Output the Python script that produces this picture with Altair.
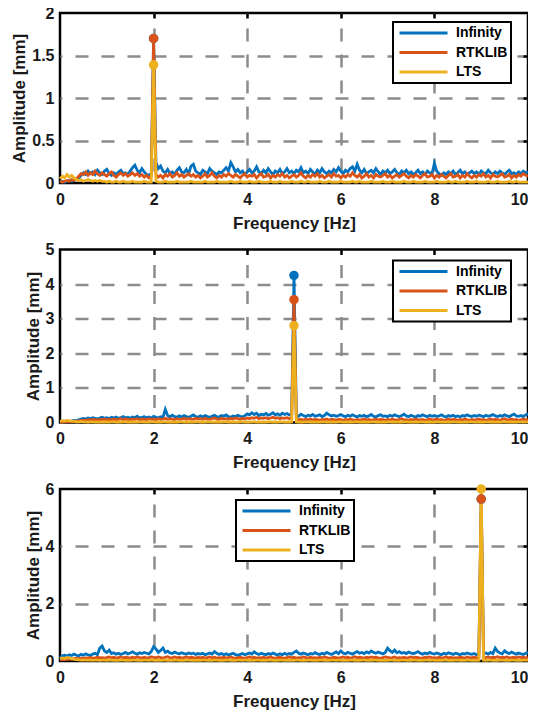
import altair as alt
import pandas as pd

# ---------------- data ----------------
FREQ = [round(0.05 * i, 2) for i in range(201)]          # 0 .. 10 Hz grid
SERIES = ["Infinity", "RTKLIB", "LTS"]
COLORS = ["#0072BD", "#D95319", "#EDB120"]

# Panel 1 (excitation 2 Hz)
P1_INF = [
    0.01,0.02,0.01,0.02,0.03,0.02,0.03,0.04,0.06,0.09,0.12,0.10,0.14,0.11,0.13,0.10,0.15,0.12,0.10,0.14,
    0.16,0.11,0.09,0.12,0.10,0.13,0.15,0.11,0.12,0.10,0.14,0.18,0.21,0.15,0.12,0.17,0.13,0.10,0.09,0.11,
    1.70,0.24,0.17,0.20,0.14,0.12,0.16,0.11,0.13,0.10,0.15,0.18,0.13,0.12,0.16,0.11,0.20,0.22,0.14,0.12,
    0.10,0.15,0.13,0.11,0.17,0.14,0.12,0.10,0.13,0.12,0.15,0.18,0.14,0.24,0.19,0.13,0.16,0.12,0.14,0.10,
    0.13,0.16,0.12,0.14,0.19,0.13,0.11,0.15,0.12,0.17,0.13,0.10,0.14,0.12,0.16,0.11,0.13,0.17,0.12,0.14,
    0.11,0.15,0.13,0.18,0.12,0.14,0.11,0.16,0.13,0.10,0.15,0.12,0.17,0.13,0.11,0.14,0.12,0.16,0.13,0.18,
    0.14,0.11,0.15,0.13,0.17,0.19,0.14,0.22,0.15,0.12,0.16,0.11,0.13,0.15,0.12,0.17,0.13,0.10,0.14,0.12,
    0.15,0.11,0.13,0.16,0.12,0.10,0.14,0.12,0.15,0.11,0.13,0.10,0.12,0.15,0.11,0.13,0.10,0.14,0.12,0.11,
    0.23,0.14,0.11,0.09,0.12,0.10,0.13,0.11,0.14,0.10,0.12,0.15,0.11,0.13,0.10,0.12,0.14,0.11,0.13,0.10,
    0.14,0.12,0.11,0.15,0.12,0.10,0.13,0.11,0.14,0.12,0.10,0.13,0.15,0.11,0.12,0.10,0.13,0.11,0.14,0.12,
    0.13]
P1_RTK = [
    0.02,0.01,0.02,0.03,0.02,0.04,0.03,0.05,0.08,0.11,0.10,0.13,0.09,0.12,0.10,0.14,0.11,0.09,0.12,0.10,
    0.08,0.11,0.13,0.09,0.07,0.10,0.12,0.09,0.11,0.08,0.10,0.12,0.09,0.11,0.08,0.10,0.07,0.09,0.06,0.08,
    1.70,0.10,0.07,0.09,0.06,0.10,0.08,0.11,0.07,0.09,0.12,0.08,0.10,0.07,0.09,0.11,0.08,0.10,0.07,0.09,
    0.06,0.08,0.11,0.07,0.09,0.12,0.08,0.06,0.09,0.07,0.10,0.08,0.11,0.09,0.07,0.10,0.08,0.06,0.09,0.11,
    0.07,0.09,0.08,0.10,0.06,0.09,0.11,0.07,0.08,0.10,0.06,0.09,0.07,0.10,0.08,0.11,0.07,0.09,0.06,0.08,
    0.10,0.07,0.09,0.12,0.08,0.06,0.09,0.07,0.10,0.08,0.11,0.07,0.09,0.06,0.08,0.10,0.07,0.11,0.08,0.09,
    0.06,0.09,0.07,0.10,0.08,0.12,0.09,0.07,0.10,0.06,0.08,0.11,0.07,0.09,0.06,0.10,0.08,0.07,0.09,0.11,
    0.07,0.09,0.06,0.08,0.10,0.07,0.09,0.11,0.08,0.06,0.09,0.07,0.10,0.08,0.06,0.09,0.11,0.07,0.08,0.10,
    0.06,0.09,0.07,0.10,0.08,0.06,0.09,0.11,0.07,0.08,0.10,0.06,0.09,0.07,0.11,0.08,0.06,0.09,0.07,0.10,
    0.08,0.11,0.07,0.09,0.06,0.10,0.08,0.07,0.09,0.11,0.07,0.08,0.10,0.06,0.09,0.07,0.10,0.08,0.11,0.09,
    0.08]
P1_LTS = [
    0.05,0.08,0.06,0.10,0.07,0.09,0.06,0.04,0.03,0.04,0.02,0.03,0.04,0.03,0.02,0.03,0.02,0.03,0.02,0.02,
    0.01,0.02,0.01,0.01,0.02,0.01,0.01,0.02,0.01,0.01,0.01,0.02,0.01,0.01,0.01,0.01,0.02,0.01,0.01,0.01,
    1.39,0.02,0.01,0.01,0.01,0.02,0.01,0.01,0.01,0.01,0.02,0.01,0.01,0.01,0.01,0.01,0.02,0.01,0.01,0.01,
    0.01,0.01,0.02,0.01,0.01,0.01,0.01,0.02,0.01,0.01,0.01,0.01,0.01,0.02,0.01,0.01,0.01,0.02,0.01,0.01,
    0.01,0.02,0.01,0.01,0.01,0.02,0.01,0.01,0.01,0.01,0.02,0.01,0.01,0.01,0.02,0.01,0.01,0.01,0.01,0.02,
    0.01,0.01,0.01,0.02,0.01,0.01,0.02,0.01,0.01,0.01,0.01,0.02,0.01,0.01,0.01,0.02,0.01,0.01,0.01,0.01,
    0.02,0.01,0.01,0.01,0.01,0.02,0.01,0.01,0.02,0.01,0.01,0.01,0.01,0.02,0.01,0.01,0.01,0.01,0.02,0.01,
    0.01,0.01,0.02,0.01,0.01,0.01,0.01,0.02,0.01,0.01,0.01,0.02,0.01,0.01,0.01,0.01,0.02,0.01,0.01,0.01,
    0.01,0.02,0.01,0.01,0.01,0.01,0.02,0.01,0.01,0.02,0.01,0.01,0.01,0.01,0.02,0.01,0.01,0.01,0.02,0.01,
    0.01,0.01,0.01,0.02,0.01,0.01,0.01,0.02,0.01,0.01,0.01,0.01,0.02,0.01,0.01,0.02,0.01,0.01,0.01,0.01,
    0.01]

# Panel 2 (excitation 5 Hz)
P2_INF = [
    0.00,0.01,0.02,0.03,0.02,0.04,0.06,0.05,0.08,0.10,0.12,0.10,0.13,0.11,0.14,0.12,0.10,0.13,0.15,0.12,
    0.14,0.11,0.15,0.13,0.16,0.12,0.14,0.17,0.13,0.15,0.12,0.16,0.14,0.18,0.13,0.15,0.17,0.14,0.16,0.13,
    0.18,0.15,0.14,0.17,0.15,0.38,0.20,0.16,0.21,0.17,0.15,0.19,0.16,0.20,0.17,0.15,0.18,0.22,0.17,0.15,
    0.19,0.16,0.20,0.17,0.15,0.18,0.21,0.17,0.16,0.20,0.18,0.22,0.17,0.15,0.19,0.17,0.21,0.18,0.16,0.20,
    0.25,0.22,0.28,0.23,0.27,0.20,0.24,0.22,0.26,0.21,0.24,0.28,0.22,0.25,0.21,0.27,0.23,0.26,0.22,0.24,
    4.25,0.22,0.18,0.24,0.20,0.17,0.21,0.19,0.23,0.18,0.20,0.22,0.17,0.20,0.27,0.22,0.19,0.21,0.18,0.20,
    0.23,0.19,0.17,0.21,0.18,0.22,0.19,0.16,0.20,0.18,0.21,0.17,0.19,0.23,0.18,0.16,0.20,0.22,0.18,0.19,
    0.17,0.21,0.18,0.22,0.19,0.17,0.20,0.24,0.19,0.17,0.21,0.18,0.16,0.20,0.18,0.22,0.19,0.17,0.21,0.18,
    0.20,0.17,0.19,0.22,0.18,0.16,0.20,0.18,0.21,0.17,0.19,0.16,0.20,0.18,0.22,0.19,0.17,0.20,0.18,0.21,
    0.19,0.17,0.21,0.18,0.20,0.23,0.19,0.17,0.20,0.18,0.22,0.19,0.17,0.21,0.24,0.19,0.18,0.20,0.17,0.22,
    0.25]
P2_RTK = [
    0.00,0.01,0.02,0.02,0.03,0.02,0.04,0.03,0.05,0.06,0.07,0.06,0.08,0.07,0.09,0.08,0.07,0.09,0.08,0.10,
    0.08,0.09,0.07,0.10,0.08,0.09,0.11,0.08,0.10,0.09,0.08,0.10,0.09,0.11,0.08,0.10,0.09,0.08,0.11,0.09,
    0.10,0.08,0.11,0.09,0.10,0.12,0.09,0.11,0.10,0.08,0.11,0.09,0.10,0.12,0.09,0.11,0.10,0.09,0.12,0.10,
    0.11,0.09,0.12,0.10,0.09,0.11,0.13,0.10,0.09,0.12,0.10,0.11,0.09,0.12,0.10,0.13,0.11,0.09,0.12,0.10,
    0.13,0.11,0.14,0.12,0.15,0.11,0.13,0.12,0.14,0.11,0.13,0.15,0.12,0.14,0.11,0.13,0.12,0.14,0.11,0.13,
    3.55,0.10,0.08,0.09,0.07,0.09,0.08,0.10,0.07,0.09,0.08,0.06,0.09,0.08,0.10,0.07,0.09,0.08,0.07,0.09,
    0.08,0.06,0.09,0.07,0.10,0.08,0.06,0.09,0.07,0.08,0.10,0.07,0.09,0.06,0.08,0.10,0.07,0.09,0.08,0.06,
    0.09,0.07,0.10,0.08,0.06,0.09,0.11,0.07,0.08,0.06,0.09,0.07,0.10,0.08,0.07,0.09,0.06,0.08,0.10,0.07,
    0.08,0.10,0.07,0.09,0.06,0.08,0.10,0.07,0.09,0.08,0.06,0.09,0.07,0.10,0.08,0.06,0.09,0.07,0.08,0.10,
    0.07,0.09,0.06,0.08,0.10,0.07,0.09,0.08,0.06,0.09,0.11,0.07,0.08,0.10,0.07,0.09,0.06,0.08,0.10,0.07,
    0.09]
P2_LTS = [
    0.03,0.05,0.04,0.06,0.05,0.04,0.03,0.02,0.02,0.03,0.02,0.02,0.01,0.02,0.02,0.01,0.02,0.01,0.02,0.01,
    0.02,0.01,0.02,0.02,0.01,0.02,0.01,0.02,0.02,0.01,0.02,0.01,0.02,0.01,0.02,0.02,0.01,0.02,0.01,0.02,
    0.02,0.01,0.02,0.01,0.02,0.02,0.01,0.02,0.01,0.02,0.01,0.02,0.02,0.01,0.02,0.01,0.02,0.01,0.02,0.02,
    0.01,0.02,0.01,0.02,0.02,0.01,0.02,0.01,0.02,0.01,0.02,0.02,0.01,0.02,0.01,0.02,0.01,0.02,0.02,0.01,
    0.02,0.01,0.02,0.02,0.01,0.02,0.01,0.02,0.01,0.02,0.02,0.01,0.02,0.01,0.02,0.02,0.01,0.02,0.01,0.02,
    2.80,0.02,0.01,0.02,0.01,0.02,0.02,0.01,0.02,0.01,0.02,0.01,0.02,0.02,0.01,0.02,0.01,0.02,0.01,0.02,
    0.02,0.01,0.02,0.01,0.02,0.01,0.02,0.02,0.01,0.02,0.01,0.02,0.01,0.02,0.02,0.01,0.02,0.01,0.02,0.01,
    0.02,0.02,0.01,0.02,0.01,0.02,0.01,0.02,0.02,0.01,0.02,0.01,0.02,0.01,0.02,0.02,0.01,0.02,0.01,0.02,
    0.01,0.02,0.02,0.01,0.02,0.01,0.02,0.01,0.02,0.02,0.01,0.02,0.01,0.02,0.01,0.02,0.02,0.01,0.02,0.01,
    0.02,0.01,0.02,0.02,0.01,0.02,0.01,0.02,0.01,0.02,0.02,0.01,0.02,0.01,0.02,0.01,0.02,0.02,0.01,0.02,
    0.02]

# Panel 3 (excitation 9 Hz)
P3_INF = [
    0.12,0.18,0.20,0.17,0.22,0.19,0.24,0.20,0.18,0.23,0.20,0.25,0.21,0.19,0.24,0.27,0.22,0.45,0.52,0.35,
    0.30,0.38,0.26,0.29,0.24,0.27,0.23,0.26,0.30,0.25,0.28,0.32,0.27,0.24,0.29,0.26,0.30,0.27,0.25,0.33,
    0.50,0.42,0.30,0.37,0.45,0.30,0.34,0.28,0.26,0.31,0.27,0.25,0.29,0.26,0.24,0.28,0.25,0.27,0.23,0.26,
    0.24,0.27,0.22,0.25,0.28,0.24,0.33,0.27,0.23,0.26,0.22,0.25,0.21,0.24,0.27,0.22,0.20,0.23,0.26,0.22,
    0.25,0.28,0.24,0.32,0.26,0.23,0.27,0.24,0.22,0.26,0.23,0.28,0.24,0.21,0.25,0.22,0.27,0.23,0.26,0.24,
    0.30,0.35,0.27,0.24,0.28,0.25,0.22,0.26,0.24,0.29,0.25,0.23,0.27,0.24,0.30,0.26,0.23,0.27,0.32,0.26,
    0.35,0.28,0.25,0.30,0.27,0.24,0.29,0.33,0.27,0.30,0.26,0.32,0.28,0.35,0.30,0.27,0.31,0.28,0.25,0.30,
    0.45,0.36,0.30,0.38,0.29,0.33,0.27,0.30,0.26,0.31,0.28,0.25,0.29,0.33,0.27,0.24,0.28,0.25,0.30,0.26,
    0.24,0.28,0.25,0.22,0.27,0.24,0.29,0.26,0.23,0.27,0.25,0.22,0.26,0.24,0.28,0.25,0.23,0.26,0.22,0.25,
    5.65,0.25,0.28,0.24,0.30,0.26,0.45,0.33,0.28,0.25,0.36,0.29,0.26,0.31,0.27,0.24,0.28,0.25,0.23,0.27,
    0.30]
P3_RTK = [
    0.04,0.05,0.06,0.05,0.07,0.06,0.08,0.09,0.08,0.10,0.09,0.11,0.10,0.12,0.10,0.11,0.13,0.11,0.12,0.10,
    0.12,0.14,0.11,0.13,0.10,0.12,0.14,0.11,0.13,0.12,0.10,0.13,0.11,0.14,0.12,0.10,0.13,0.11,0.12,0.14,
    0.13,0.11,0.14,0.12,0.10,0.13,0.15,0.11,0.12,0.14,0.11,0.13,0.10,0.12,0.14,0.11,0.13,0.12,0.10,0.13,
    0.11,0.13,0.10,0.12,0.14,0.11,0.13,0.10,0.12,0.11,0.13,0.10,0.12,0.14,0.11,0.10,0.12,0.13,0.11,0.10,
    0.12,0.14,0.11,0.13,0.10,0.12,0.11,0.13,0.10,0.12,0.14,0.11,0.10,0.12,0.13,0.11,0.10,0.12,0.14,0.11,
    0.13,0.10,0.12,0.11,0.14,0.12,0.10,0.13,0.11,0.12,0.10,0.13,0.11,0.14,0.12,0.10,0.11,0.13,0.12,0.10,
    0.12,0.14,0.11,0.13,0.10,0.12,0.15,0.11,0.13,0.12,0.10,0.13,0.11,0.14,0.12,0.13,0.11,0.10,0.12,0.14,
    0.13,0.11,0.12,0.14,0.10,0.12,0.11,0.13,0.10,0.12,0.14,0.11,0.13,0.12,0.10,0.11,0.13,0.12,0.14,0.11,
    0.12,0.10,0.13,0.11,0.12,0.14,0.11,0.13,0.10,0.12,0.11,0.13,0.12,0.10,0.14,0.11,0.12,0.13,0.11,0.12,
    5.65,0.13,0.12,0.14,0.11,0.13,0.12,0.15,0.11,0.13,0.12,0.14,0.11,0.12,0.13,0.11,0.14,0.12,0.13,0.11,
    0.12]
P3_LTS = [
    0.08,0.11,0.09,0.12,0.10,0.08,0.06,0.05,0.04,0.03,0.04,0.03,0.03,0.04,0.02,0.03,0.03,0.02,0.03,0.03,
    0.02,0.03,0.03,0.02,0.03,0.02,0.03,0.03,0.02,0.03,0.02,0.03,0.03,0.02,0.03,0.02,0.03,0.03,0.02,0.03,
    0.03,0.02,0.03,0.02,0.03,0.03,0.02,0.03,0.02,0.03,0.03,0.02,0.03,0.02,0.03,0.03,0.02,0.03,0.02,0.03,
    0.02,0.03,0.03,0.02,0.03,0.02,0.03,0.03,0.02,0.03,0.02,0.03,0.03,0.02,0.03,0.02,0.03,0.03,0.02,0.03,
    0.03,0.02,0.03,0.02,0.03,0.03,0.02,0.03,0.02,0.03,0.03,0.02,0.03,0.02,0.03,0.03,0.02,0.03,0.02,0.03,
    0.02,0.03,0.03,0.02,0.03,0.02,0.03,0.03,0.02,0.03,0.02,0.03,0.03,0.02,0.03,0.02,0.03,0.03,0.02,0.03,
    0.03,0.02,0.03,0.02,0.03,0.03,0.02,0.03,0.02,0.03,0.03,0.02,0.03,0.02,0.03,0.03,0.02,0.03,0.02,0.03,
    0.02,0.03,0.03,0.02,0.03,0.02,0.03,0.03,0.02,0.03,0.02,0.03,0.03,0.02,0.03,0.02,0.03,0.03,0.02,0.03,
    0.03,0.02,0.03,0.02,0.03,0.03,0.02,0.03,0.02,0.03,0.03,0.02,0.03,0.02,0.03,0.03,0.02,0.03,0.02,0.03,
    6.00,0.03,0.02,0.03,0.03,0.02,0.03,0.02,0.03,0.03,0.02,0.03,0.02,0.03,0.03,0.02,0.03,0.02,0.03,0.03,
    0.03]

PEAK_FREQ = [2.0, 5.0, 9.0]
PEAK_P1 = [1.70, 1.70, 1.39]
PEAK_P2 = [4.25, 3.55, 2.80]
PEAK_P3 = [5.65, 5.65, 6.00]

Y_MAX = [2, 5, 6]
Y_TICKS = [[0, 0.5, 1, 1.5, 2], [0, 1, 2, 3, 4, 5], [0, 2, 4, 6]]
X_TICKS = [0, 2, 4, 6, 8, 10]

for s in (P1_INF, P1_RTK, P1_LTS, P2_INF, P2_RTK, P2_LTS, P3_INF, P3_RTK, P3_LTS):
    assert len(s) == len(FREQ), len(s)

# ---------------- styling ----------------
FONT = "Liberation Sans"
TXT = "#1a1a1a"
GRID = "#8c8c8c"
PLOT_W = 468
HEIGHTS = [170, 173, 172]
LEGEND_POS = [(333, 9), (333, 11), (176, 11)]


def panel(vals, peaks, peak_f, ymax, yticks, lx, ly, h):
    xs = alt.Scale(domain=[0, 10], nice=False, zero=False)
    ys = alt.Scale(domain=[0, ymax], nice=False)
    x_axis = alt.Axis(
        values=X_TICKS, title="Frequency [Hz]", format="~f",
        grid=True, gridDash=[13, 13], gridDashOffset=11, gridColor=GRID, gridWidth=2.5,
        gridOpacity={"condition": {"test": "datum.value == 0 || datum.value == 10", "value": 0}, "value": 1},
        ticks=False, domain=False, labelFlush=False,
        labelAlign={"condition": {"test": "datum.value == 10", "value": "right"}, "value": "center"},
        labelFont=FONT, labelFontSize=16, labelFontWeight="bold", labelColor=TXT, labelPadding=8,
        titleFont=FONT, titleFontSize=17, titleFontWeight="bold", titleColor=TXT, titlePadding=8,
    )
    y_axis = alt.Axis(
        values=yticks, title="Amplitude [mm]", format="~f",
        grid=True, gridDash=[13, 13], gridDashOffset=11, gridColor=GRID, gridWidth=2.5,
        gridOpacity={"condition": {"test": f"datum.value == 0 || datum.value == {ymax}", "value": 0}, "value": 1},
        ticks=False, domain=False, labelFlush=False,
        labelFont=FONT, labelFontSize=16, labelFontWeight="bold", labelColor=TXT, labelPadding=6,
        titleFont=FONT, titleFontSize=17, titleFontWeight="bold", titleColor=TXT, titlePadding=3,
    )
    legend = alt.Legend(
        title=None, orient="none", legendX=lx, legendY=ly,
        symbolType="stroke", symbolSize=2304, symbolStrokeWidth=3,
        labelFont=FONT, labelFontSize=14, labelFontWeight="bold", labelColor="#000000",
        fillColor="white", strokeColor="black", padding=3, rowPadding=3.5,
        clipHeight=16, symbolOffset=2, labelOffset=7, zindex=2,
    )
    cscale = alt.Scale(domain=SERIES, range=COLORS)
    xenc = alt.X("f:Q", scale=xs, axis=x_axis)
    yenc = alt.Y("amp:Q", scale=ys, axis=y_axis)

    layers = []
    for i, name in enumerate(SERIES):
        df = pd.DataFrame({"f": FREQ, "amp": vals[i], "series": name})
        layers.append(
            alt.Chart(df).mark_line(strokeWidth=2.8).encode(
                x=xenc, y=yenc,
                color=alt.Color("series:N", scale=cscale, legend=legend),
            )
        )
    for i, name in enumerate(SERIES):
        dfp = pd.DataFrame({"f": [peak_f], "amp": [peaks[i]]})
        layers.append(
            alt.Chart(dfp).mark_circle(size=90, opacity=1, color=COLORS[i]).encode(x=xenc, y=yenc)
        )
    main = alt.layer(*layers)

    inner = [v for v in yticks if 0 < v < ymax]
    dft = pd.DataFrame({"f": [0, 10], "amp": [0, ymax]})
    ticks = alt.Chart(dft).mark_point(opacity=0, size=1).encode(
        x=alt.X("f:Q", scale=alt.Scale(domain=[0, 10], nice=False, zero=False),
                axis=alt.Axis(orient="top", values=[2, 4, 6, 8], labels=False, ticks=True,
                              tickSize=5, tickWidth=2.5, tickColor="black", domain=False,
                              grid=False, offset=-5, title=None, minExtent=0, maxExtent=0)),
        y=alt.Y("amp:Q", scale=alt.Scale(domain=[0, ymax], nice=False),
                axis=alt.Axis(orient="right", values=inner, labels=False, ticks=True,
                              tickSize=5, tickWidth=2.5, tickColor="black", domain=False,
                              grid=False, offset=-5, title=None, minExtent=0, maxExtent=0)),
    )
    return (
        alt.layer(main, ticks)
        .resolve_scale(x="independent", y="independent")
        .properties(width=PLOT_W, height=h)
    )


panels = [
    panel([P1_INF, P1_RTK, P1_LTS], PEAK_P1, PEAK_FREQ[0], Y_MAX[0], Y_TICKS[0], *LEGEND_POS[0], HEIGHTS[0]),
    panel([P2_INF, P2_RTK, P2_LTS], PEAK_P2, PEAK_FREQ[1], Y_MAX[1], Y_TICKS[1], *LEGEND_POS[1], HEIGHTS[1]),
    panel([P3_INF, P3_RTK, P3_LTS], PEAK_P3, PEAK_FREQ[2], Y_MAX[2], Y_TICKS[2], *LEGEND_POS[2], HEIGHTS[2]),
]

chart = (
    alt.vconcat(*panels, spacing=6.5)
    .resolve_scale(color="independent")
    .properties(padding={"left": 1, "top": -5, "right": -7, "bottom": 0}, background="white")
    .configure_view(stroke="black", strokeWidth=2.5)
    .configure_legend(strokeWidth=2)
)

chart.save("out.html", embed_options={"renderer": "svg", "actions": False})
